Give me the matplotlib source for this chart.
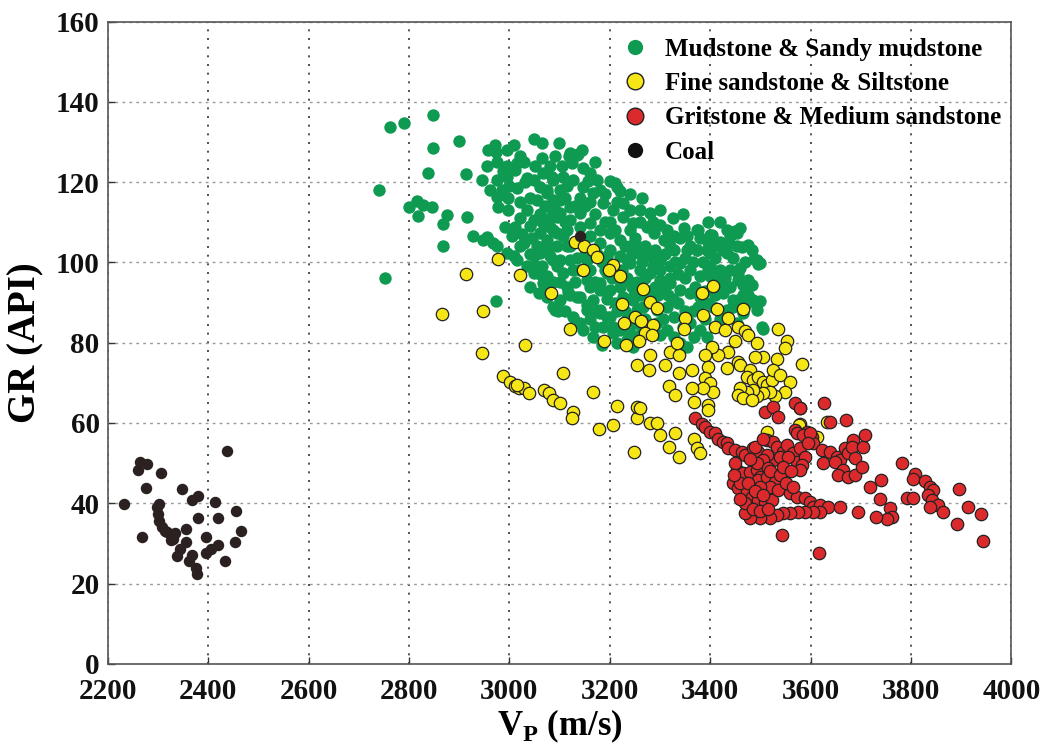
import matplotlib
matplotlib.use('Agg')
import matplotlib.pyplot as plt
from matplotlib.lines import Line2D
import numpy as np

# digitised (Vp m/s, GR API) pairs per lithology
mudstone = np.array([
    (2848, 136.8), (2762, 133.7), (2789, 134.7), (2900, 130.3), (2848, 128.6), (3048, 130.7),
    (3064, 129.7), (3098, 129.7), (2837, 122.4), (2913, 122.0), (2739, 118.1), (2799, 113.9),
    (2815, 115.2), (2828, 114.4), (2845, 113.9), (2818, 111.6), (2875, 111.7), (2867, 109.5),
    (2915, 111.4), (2928, 106.6), (2867, 104.0), (2752, 96.1), (2955, 106.3), (2975, 104.0),
    (2958, 128.1), (2971, 129.3), (2995, 128.1), (2955, 123.9), (2975, 125.1), (2945, 120.6),
    (2961, 118.1), (2975, 120.6), (2995, 123.9), (3015, 124.7), (2995, 121.4), (3011, 123.1),
    (3028, 125.1), (2975, 116.4), (2978, 113.9), (2998, 116.0), (2998, 113.1), (3015, 118.5),
    (2991, 108.9), (3011, 108.9), (3005, 106.5), (2955, 106.0), (2968, 104.8), (3008, 101.5),
    (3028, 104.8), (3048, 101.5), (3051, 99.0), (3074, 96.5), (3087, 95.2), (3094, 99.0),
    (2973, 90.3), (3048, 120.6), (3061, 118.9), (3074, 117.3), (3087, 115.6), (3034, 113.1),
    (3048, 110.6), (3061, 107.3), (3074, 105.6), (3081, 108.9), (3094, 104.0), (3054, 115.6),
    (3084, 121.4), (3094, 111.4), (3081, 101.5), (3094, 107.3), (3008, 129.3), (3021, 126.4),
    (2974, 127.5), (2988, 122.8), (3118, 126.4), (3136, 127.0), (3156, 120.4), (3210, 119.9),
    (2995, 102.3), (3015, 100.6), (3034, 99.0), (3048, 97.3), (3041, 94.0), (3058, 92.3),
    (3074, 91.5), (3107, 97.3), (3117, 92.7), (3090, 88.2), (3097, 87.8), (3141, 91.5),
    (3154, 89.4), (3161, 94.0), (3181, 88.2), (3194, 86.5), (3207, 84.0), (3220, 83.2),
    (3240, 82.4), (3254, 81.5), (3181, 93.2), (3194, 97.3), (3220, 94.0), (3247, 91.5),
    (3254, 88.2), (3154, 100.6), (3121, 100.6), (3087, 100.6), (3061, 102.3), (3021, 104.0),
    (3194, 101.5), (3234, 100.6), (3254, 104.0), (3114, 104.0), (3074, 104.4),
    (3134, 126.8), (3124, 124.7), (3147, 123.5), (3161, 122.3), (3174, 120.6), (3200, 120.2),
    (3214, 118.9), (3227, 114.8), (3220, 117.7), (3240, 113.1), (3260, 113.1), (3280, 112.3),
    (3300, 109.4), (3314, 108.1), (3327, 106.5), (3347, 108.5), (3353, 106.5), (3373, 108.1),
    (3380, 106.0), (3400, 106.9), (3406, 104.8), (3433, 108.1), (3440, 106.5), (3453, 104.0),
    (3426, 103.1), (3393, 103.1), (3373, 103.1), (3353, 103.1), (3327, 103.1), (3307, 105.6),
    (3287, 107.3), (3274, 108.9), (3247, 109.8), (3227, 111.4), (3207, 113.1), (3187, 114.8),
    (3167, 117.3), (3147, 118.9), (3127, 120.6), (3107, 121.4), (3087, 120.6), (3074, 118.1),
    (3101, 115.6), (3121, 113.9), (3141, 112.3), (3161, 109.8), (3181, 108.1), (3200, 107.3),
    (3220, 105.6), (3240, 104.0), (3260, 102.3), (3280, 101.5), (3300, 100.6), (3320, 99.0),
    (3340, 99.8), (3360, 98.1), (3380, 96.5), (3400, 96.5), (3420, 94.8), (3440, 94.0),
    (3456, 95.7), (3446, 90.7), (3433, 88.2), (3453, 84.9), (3406, 89.0), (3380, 91.5),
    (3360, 92.3), (3340, 93.2), (3320, 94.8), (3300, 95.7), (3280, 97.3), (3260, 98.1),
    (3240, 99.8), (3220, 101.5), (3200, 103.1), (3181, 104.8), (3161, 106.5), (3141, 108.9),
    (3121, 110.6), (3101, 112.3), (3081, 113.9), (3067, 109.8), (3087, 108.1), (3107, 106.5),
    (3074, 103.1), (3101, 100.6), (3127, 98.1), (3154, 95.7), (3181, 94.8), (3200, 93.2),
    (3227, 91.5), (3247, 90.7), (3267, 89.0), (3294, 88.2), (3314, 89.0), (3327, 86.5),
    (3294, 84.9), (3314, 83.2), (3327, 81.5), (3340, 79.9), (3353, 79.0), (3367, 81.5),
    (3380, 83.2), (3393, 81.5), (3360, 84.9), (3167, 90.7), (3154, 88.2), (3181, 87.4),
    (3200, 86.5), (3187, 84.0), (3207, 82.4), (3234, 80.7), (3247, 79.0), (3134, 91.5),
    (3114, 94.0), (3067, 94.8), (3101, 90.7), (3087, 89.0), (3127, 86.5), (3147, 83.2),
    (3167, 81.5), (3121, 127.2), (3067, 122.3),
    (3376, 108.1), (3403, 106.9), (3420, 105.2), (3436, 104.8), (3443, 107.3), (3453, 107.3),
    (3476, 104.4), (3483, 103.1), (3493, 100.6), (3499, 99.8), (3440, 98.1), (3460, 98.6),
    (3476, 95.7), (3483, 94.4), (3476, 91.9), (3486, 90.7), (3493, 89.8), (3493, 88.2),
    (3456, 90.7), (3446, 89.0), (3466, 87.4), (3503, 84.0), (3433, 102.3), (3400, 102.3),
    (3400, 99.0), (3426, 92.3), (3373, 103.1), (3449, 107.8), (3463, 103.9), (3488, 100.9),
    (3496, 99.7), (3472, 89.7), (3506, 83.5), (3499, 90.4), (3466, 94.4), (2947, 105.6),
    (3030, 120.0), (3040, 116.0), (3060, 112.0), (3070, 114.0), (3080, 111.0), (3100, 118.0),
    (3110, 116.0), (3115, 108.0), (3130, 114.0), (3135, 105.0), (3150, 114.0), (3150, 102.0),
    (3170, 112.0), (3175, 102.0), (3190, 110.0), (3190, 98.0), (3210, 108.0), (3215, 98.0),
    (3230, 104.0), (3235, 96.0), (3250, 106.0), (3255, 95.0), (3270, 104.0), (3275, 93.0),
    (3290, 103.0), (3295, 92.0), (3310, 102.0), (3315, 92.0), (3330, 100.0), (3335, 90.0),
    (3350, 96.0), (3350, 88.0), (3370, 94.0), (3390, 93.0), (3410, 92.0), (3420, 98.0),
    (3430, 96.0), (3045, 106.0), (3020, 111.0), (3040, 109.0), (3060, 97.0), (3130, 95.0),
    (3110, 88.0), (3140, 85.0), (3170, 84.0), (3215, 88.0), (3235, 86.0), (3270, 86.0),
    (3280, 83.0), (3300, 82.0), (3240, 95.0), (3285, 91.0), (3305, 86.0), (3345, 84.0),
    (3365, 88.0), (3390, 86.0), (3410, 84.0), (3420, 86.0),
    (3105, 124.0), (3090, 126.5), (3145, 128.0), (3170, 125.0), (3190, 117.0), (3240, 117.0),
    (3265, 116.0), (3300, 113.0), (3325, 111.0), (3345, 112.0), (3395, 110.0), (3420, 110.0),
    (3470, 100.0), (3460, 108.5),
    (2985, 118.0), (3000, 119.0), (3020, 115.0), (3035, 121.0), (3050, 124.0), (3065, 126.0),
    (3080, 124.0), (3055, 104.0), (3040, 102.0), (3025, 107.0), (3065, 99.0), (3075, 94.0),
    (3100, 95.0), (3120, 92.0), (3140, 98.0), (3160, 98.0), (3170, 95.0), (3185, 100.0),
    (3205, 96.0), (3225, 98.0), (3245, 102.0), (3265, 100.0), (3270, 96.0), (3285, 99.0),
    (3300, 98.0), (3320, 96.0), (3335, 97.0), (3350, 101.0), (3365, 100.0), (3385, 100.0),
    (3395, 98.0), (3410, 101.0), (3410, 97.0), (3445, 101.0), (3455, 97.0), (3465, 92.0),
    (3395, 90.0), (3375, 89.0), (3325, 91.0), (3310, 94.0), (3290, 94.0), (3260, 92.0),
    (3245, 94.0), (3210, 90.0), (3195, 91.0), (3175, 88.0), (3160, 86.0), (3230, 88.0),
    (3250, 85.0), (3265, 83.0), (3185, 79.5), (3215, 80.0), (3120, 104.0), (3135, 101.0),
    (3200, 110.0), (3215, 115.0), (3240, 108.0), (3260, 110.0), (3285, 110.0), (3320, 104.0),
    (3340, 106.0), (3360, 104.0), (3395, 105.0), (3415, 104.0), (3160, 115.0), (3180, 118.0),
    (3110, 110.0), (3090, 113.0), (3115, 119.0), (3140, 116.0),
])

fine_sandstone = np.array([
    (2977, 100.8), (2913, 97.1), (3020, 96.8), (3083, 92.5), (2866, 87.1), (2948, 87.9),
    (3121, 83.4), (3030, 79.4), (2945, 77.4), (2988, 71.7), (3001, 70.1), (3010, 69.1),
    (3018, 68.7), (3028, 68.7), (3039, 67.4), (3014, 69.5), (3106, 72.4), (3068, 68.1),
    (3078, 67.4), (3087, 65.7), (3101, 65.1), (3127, 62.7), (3124, 61.2), (3167, 67.7),
    (3178, 58.4), (3207, 59.4), (3215, 64.3), (3188, 80.5), (3232, 79.5), (3254, 74.4),
    (3248, 52.8), (3147, 98.2), (3131, 105.0), (3149, 104.1), (3167, 103.1), (3174, 101.3),
    (3207, 99.4), (3199, 98.0), (3220, 96.5), (3224, 89.6), (3250, 86.4), (3229, 84.9),
    (3254, 61.2), (3254, 64.1),
    (3267, 93.3), (3280, 90.2), (3294, 88.6), (3262, 85.3), (3286, 84.4), (3270, 82.4),
    (3283, 81.9), (3259, 80.3), (3280, 77.0), (3277, 73.2), (3310, 74.5), (3320, 77.8),
    (3337, 77.0), (3333, 79.9), (3350, 86.1), (3347, 83.4), (3383, 92.3), (3406, 94.2),
    (3385, 86.9), (3413, 88.4), (3436, 86.1), (3465, 88.4), (3410, 84.0), (3430, 83.2),
    (3456, 84.0), (3470, 82.8), (3476, 81.9), (3450, 80.3), (3493, 79.9), (3536, 83.4),
    (3553, 80.4), (3549, 78.6), (3583, 74.7), (3533, 75.9), (3506, 76.5), (3489, 76.5),
    (3436, 77.8), (3416, 77.0), (3403, 79.0), (3390, 77.0), (3396, 74.0), (3433, 73.6),
    (3456, 75.3), (3460, 74.5), (3480, 73.2), (3473, 71.5), (3486, 70.7), (3496, 71.5),
    (3506, 70.3), (3513, 69.5), (3523, 70.7), (3526, 73.2), (3539, 72.0), (3559, 70.3),
    (3549, 67.8), (3529, 66.6), (3519, 67.8), (3506, 67.4), (3493, 66.6), (3486, 68.2),
    (3473, 67.8), (3460, 68.7), (3456, 67.0), (3466, 66.2), (3483, 65.7), (3390, 71.2),
    (3400, 69.9), (3406, 67.8), (3386, 68.7), (3363, 68.7), (3363, 73.2), (3337, 72.4),
    (3317, 69.1), (3330, 67.0), (3368, 65.3), (3396, 64.5), (3396, 63.2), (3260, 63.7),
    (3280, 59.9), (3294, 59.9), (3299, 57.0), (3330, 57.6), (3317, 54.1), (3337, 51.6),
    (3368, 55.9), (3373, 53.7), (3380, 52.5), (3513, 57.8), (3579, 59.8), (3579, 63.7),
    (3632, 60.3), (3576, 59.5), (3612, 56.6),
])

gritstone = np.array([
    (3370, 61.3), (3384, 59.8), (3390, 59.0), (3400, 57.8), (3410, 57.5), (3416, 56.0),
    (3426, 55.3), (3434, 55.0), (3436, 53.8), (3450, 53.3), (3464, 52.8), (3470, 52.0),
    (3485, 53.8), (3495, 52.8), (3513, 55.8), (3525, 55.3), (3533, 54.0), (3545, 52.8),
    (3553, 54.5), (3565, 52.5), (3573, 50.3), (3525, 50.8), (3513, 52.0), (3509, 62.7),
    (3525, 64.0), (3535, 61.5), (3569, 65.0), (3579, 63.7), (3454, 48.3), (3466, 47.5),
    (3480, 47.8), (3493, 48.3), (3499, 46.5), (3593, 57.8), (3603, 56.5), (3605, 55.0),
    (3579, 53.8), (3589, 51.5),
    (3627, 64.9), (3639, 60.3), (3670, 60.8), (3569, 58.3), (3573, 57.6), (3585, 57.1),
    (3599, 57.6), (3595, 55.1), (3539, 51.6), (3555, 51.6), (3583, 49.6), (3579, 48.3),
    (3505, 50.8), (3493, 50.1), (3515, 48.8), (3495, 45.8), (3513, 46.6), (3529, 45.3),
    (3519, 44.1), (3499, 44.1), (3446, 45.1), (3456, 43.8), (3474, 42.8), (3484, 41.5),
    (3495, 40.8), (3509, 40.3), (3523, 40.8), (3535, 43.3), (3559, 42.6), (3573, 41.5),
    (3589, 41.3), (3599, 40.3), (3605, 39.0), (3619, 39.5), (3635, 39.0), (3658, 39.0),
    (3619, 37.8), (3605, 37.8), (3589, 37.8), (3575, 37.8), (3559, 37.5), (3545, 37.5),
    (3533, 37.0), (3519, 36.3), (3499, 36.3), (3480, 36.3), (3470, 37.5), (3543, 32.0),
    (3617, 27.5), (3695, 37.8), (3623, 53.3), (3625, 50.1), (3639, 52.8), (3653, 51.6),
    (3658, 50.8), (3649, 50.3), (3668, 53.8), (3674, 52.6), (3684, 55.8), (3682, 54.1),
    (3704, 54.1), (3708, 57.1), (3688, 51.3), (3664, 48.3), (3655, 47.1), (3674, 46.6),
    (3688, 47.1), (3703, 49.1), (3783, 50.1), (3809, 47.3), (3805, 46.1), (3828, 45.6),
    (3838, 44.1), (3844, 43.3), (3834, 42.1), (3842, 40.8), (3854, 39.5), (3864, 37.8),
    (3838, 39.0), (3793, 41.3), (3805, 41.3), (3741, 45.8), (3719, 44.1), (3739, 41.0),
    (3759, 38.8), (3763, 36.5), (3753, 36.0), (3730, 36.5), (3896, 43.6), (3914, 39.0),
    (3940, 37.3), (3892, 34.8), (3944, 30.5),
    (3450, 50.0), (3460, 45.0), (3475, 45.0), (3490, 43.0), (3505, 42.0), (3470, 40.0),
    (3485, 38.5), (3500, 38.0), (3515, 38.5), (3460, 41.0), (3447, 47.0), (3520, 48.0),
    (3540, 47.0), (3550, 45.0), (3565, 44.0), (3490, 54.0), (3505, 56.0), (3480, 51.0),
    (3545, 49.0), (3560, 48.0),
])

coal = np.array([
    (2232, 39.7), (2259, 48.2), (2263, 50.3), (2278, 49.7), (2275, 43.8), (2267, 31.5),
    (2305, 47.6), (2301, 39.7), (2297, 39.0), (2300, 37.2), (2302, 35.6), (2308, 34.2),
    (2314, 33.0), (2325, 30.8), (2333, 32.6), (2337, 26.8), (2343, 28.7), (2348, 43.6),
    (2356, 30.4), (2362, 25.7), (2367, 27.2), (2375, 23.9), (2378, 22.4), (2368, 40.9),
    (2379, 41.9), (2379, 36.4), (2395, 31.6), (2396, 27.5), (2405, 28.7), (2413, 40.4),
    (2420, 36.4), (2420, 29.7), (2433, 25.7), (2437, 53.1), (2453, 30.4), (2456, 38.1),
    (2464, 33.0), (2355, 33.5), (2318, 32.8), (2329, 31.0), (3140, 106.5),
])

labels = ['Mudstone & Sandy mudstone', 'Fine sandstone & Siltstone',
          'Gritstone & Medium sandstone', 'Coal']
green = '#0f9a52'
yellow = '#f6e616'
red = '#dc2a2c'
dark = '#2a2120'

plt.rcParams['font.family'] = ['Liberation Serif', 'DejaVu Serif']
plt.rcParams['font.weight'] = 'bold'

fig = plt.figure(figsize=(10.59, 7.45), dpi=100)
ax = fig.add_axes([0.102, 0.109, 0.853, 0.862])

ax.scatter(mudstone[:, 0], mudstone[:, 1], s=80, c=green, linewidths=0, zorder=3)
ax.scatter(fine_sandstone[:, 0], fine_sandstone[:, 1], s=80, c=yellow,
           edgecolors='#222222', linewidths=0.9, zorder=4)
ax.scatter(gritstone[:, 0], gritstone[:, 1], s=80, c=red,
           edgecolors='#222222', linewidths=0.9, zorder=5)
ax.scatter(coal[:, 0], coal[:, 1], s=68, c=dark, linewidths=0, zorder=6)

ax.set_xlim(2200, 4000)
ax.set_ylim(0, 160)
ax.set_xticks(np.arange(2200, 4001, 200))
ax.set_yticks(np.arange(0, 161, 20))

ax.grid(axis='x', color='#333333', linestyle=(0, (1.2, 4)), linewidth=1.2)
ax.grid(axis='y', color='#9a9a9a', linestyle=(0, (2, 3)), linewidth=1.0)
ax.set_axisbelow(True)

for sp in ax.spines.values():
    sp.set_color('#555555')
    sp.set_linewidth(1.2)

ax.tick_params(direction='in', length=5, width=1, colors='#333333',
               labelsize=21, labelcolor='#111111')
ax.tick_params(axis='x', pad=10)
ax.tick_params(axis='y', pad=6)

ax.set_xlabel(r'V$_\mathregular{P}$ (m/s)', fontsize=25, fontweight='bold')
ax.xaxis.set_label_coords(0.5, -0.068)
ax.set_ylabel('GR (API)', fontsize=28, fontweight='bold')
ax.yaxis.set_label_coords(-0.07, 0.5)

handles = [
    Line2D([], [], marker='o', linestyle='', markersize=11, markerfacecolor=green,
           markeredgewidth=0),
    Line2D([], [], marker='o', linestyle='', markersize=12, markerfacecolor=yellow,
           markeredgecolor='#222222', markeredgewidth=1),
    Line2D([], [], marker='o', linestyle='', markersize=12, markerfacecolor=red,
           markeredgecolor='#222222', markeredgewidth=1),
    Line2D([], [], marker='o', linestyle='', markersize=11, markerfacecolor='#111111',
           markeredgewidth=0),
]
ax.legend(handles, labels, loc='upper right', bbox_to_anchor=(1.008, 1.002),
          frameon=False, prop={'size': 18, 'weight': 'bold'},
          handlelength=1.0, handletextpad=0.7, labelspacing=0.45, borderaxespad=0.3)

plt.savefig('out.png', dpi=100)
